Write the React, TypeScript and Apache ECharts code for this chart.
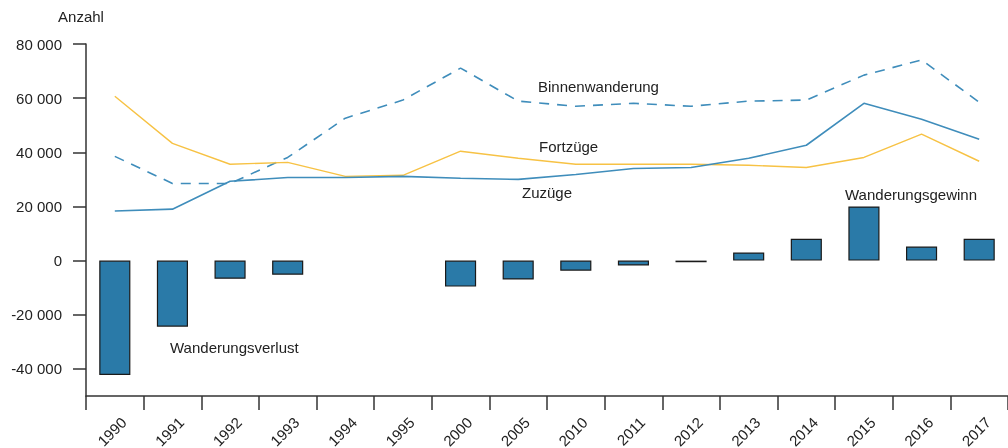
import React, { useEffect, useRef } from "react";
import * as echarts from "echarts";

const categories = ["1990", "1991", "1992", "1993", "1994", "1995", "2000", "2005", "2010", "2011", "2012", "2013", "2014", "2015", "2016", "2017"];
const saldo = [-42200, -24400, -6700, -5200, null, null, -9600, -7000, -3700, -1800, -600, 3000, 8100, 20000, 5200, 8100];
const zuzuege = [18300, 19000, 29300, 30700, 30700, 31100, 30400, 30000, 31800, 34000, 34400, 37800, 42600, 58100, 52200, 44800];
const fortzuege = [60700, 43300, 35600, 36300, 31100, 31500, 40400, 37800, 35600, 35600, 35600, 35200, 34400, 38100, 46700, 36700];
const binnen = [38500, 28500, 28500, 38100, 52600, 59300, 71100, 58900, 57000, 58100, 57000, 58900, 59300, 68500, 74100, 58500];
const yTicks = [-40000, -20000, 0, 20000, 40000, 60000, 80000];

const FONT = "Arial, 'Liberation Sans', sans-serif";
const TXT = "#222";
const FS = 15;

function fmt(v: number): string {
  if (v === 0) return "0";
  const s = Math.abs(v).toString().replace(/\B(?=(\d{3})+(?!\d))/g, " ");
  return (v < 0 ? "-" : "") + s;
}

export default function App() {
  const ref = useRef<HTMLDivElement>(null);
  useEffect(() => {
    if (!ref.current) return;
    const chart = echarts.init(ref.current, null, { renderer: "svg" });
    const label = (text: string, x: number, y: number) => ({
      type: "text",
      x,
      y,
      style: { text, fill: TXT, font: `${FS}px ${FONT}`, textVerticalAlign: "middle", verticalAlign: "middle" },
    });
    chart.setOption({
      animation: false,
      textStyle: { fontFamily: FONT },
      grid: { left: 86, right: 0, top: 44, bottom: 52, containLabel: false, outerBoundsMode: "none" },
      xAxis: {
        type: "category",
        data: categories,
        boundaryGap: true,
        axisLine: { onZero: false, lineStyle: { color: "#333", width: 1.5 } },
        axisTick: { show: true, length: 14, alignWithLabel: false, lineStyle: { color: "#333", width: 1.5 } },
        axisLabel: { rotate: 45, interval: 0, margin: 15, padding: [5, 0, 0, 0], color: TXT, fontSize: FS, verticalAlign: "top", fontFamily: FONT },
        splitLine: { show: false },
      },
      yAxis: {
        type: "value",
        min: -50000,
        max: 80000,
        name: "Anzahl",
        nameLocation: "end",
        nameGap: 20,
        nameTextStyle: { color: TXT, fontSize: FS, fontFamily: FONT, align: "center", padding: [0, 10, 0, 0] },
        axisLine: { show: true, lineStyle: { color: "#333", width: 1.5 } },
        axisTick: { show: true, length: 13, customValues: yTicks, lineStyle: { color: "#333", width: 1.5 } },
        axisLabel: { customValues: yTicks, margin: 24, color: TXT, fontSize: FS, fontFamily: FONT, formatter: (v: number) => fmt(v) },
        splitLine: { show: false },
      },
      series: [
        {
          name: "Wanderungssaldo",
          type: "bar",
          data: saldo,
          barWidth: "54%",
          itemStyle: { color: "#2a7aa8", borderColor: "#1a1a1a", borderWidth: 1.2 },
        },
        {
          name: "Binnenwanderung",
          type: "line",
          data: binnen,
          symbol: "none",
          lineStyle: { color: "#3f8dbb", width: 1.6, type: [10, 8] },
        },
        {
          name: "Fortzüge",
          type: "line",
          data: fortzuege,
          symbol: "none",
          lineStyle: { color: "#f7c244", width: 1.4 },
        },
        {
          name: "Zuzüge",
          type: "line",
          data: zuzuege,
          symbol: "none",
          lineStyle: { color: "#3f8dbb", width: 1.6 },
        },
      ],
      graphic: [
        label("Binnenwanderung", 538, 86),
        label("Fortzüge", 539, 146),
        label("Zuzüge", 522, 192),
        label("Wanderungsgewinn", 845, 194),
        label("Wanderungsverlust", 170, 347),
      ],
    });
    return () => chart.dispose();
  }, []);
  return <div ref={ref} style={{ position: "fixed", left: 0, top: 0, width: 1008, height: 448 }} />;
}
